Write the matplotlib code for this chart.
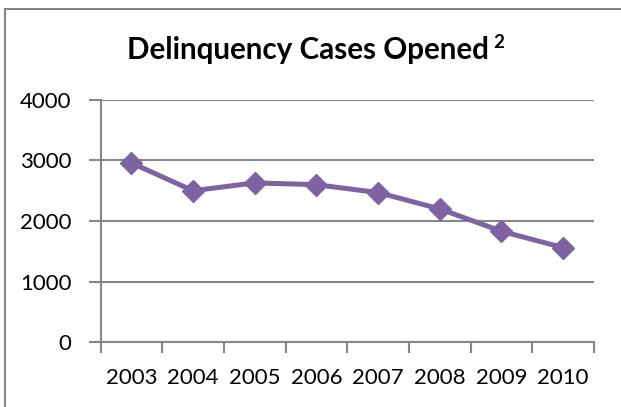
import matplotlib.pyplot as plt
from matplotlib.lines import Line2D

years = ['2003', '2004', '2005', '2006', '2007', '2008', '2009', '2010']
cases = [2960, 2500, 2630, 2600, 2470, 2200, 1830, 1560]
y_ticks = [0, 1000, 2000, 3000, 4000]

purple = '#7F62A1'
grey = '#868686'

plt.rcParams['font.family'] = ['Lato', 'DejaVu Sans']

W, H = 621, 407
fig = plt.figure(figsize=(W / 100, H / 100), dpi=100)

# cadre du graphique : seuls les bords gauche et haut sont visibles
fig.add_artist(Line2D([4.5 / W, 4.5 / W], [0, 1 - 8.5 / H], color=grey, linewidth=1.5))
fig.add_artist(Line2D([4.5 / W, 1], [1 - 8.5 / H, 1 - 8.5 / H], color=grey, linewidth=1.5))

ax = fig.add_axes([100.5 / W, 1 - 342 / H, (594 - 100.5) / W, (342 - 100) / H])

x = list(range(len(years)))
ax.plot(x, cases, color=purple, linewidth=3.6, marker='D', markersize=11,
        markerfacecolor=purple, markeredgecolor=purple, zorder=3)

ax.set_xlim(-0.5, len(years) - 0.5)
ax.set_ylim(0, 4000)
ax.set_yticks(y_ticks)
ax.set_yticklabels([str(v) for v in y_ticks], fontsize=16)
ax.yaxis.grid(True, color=grey, linewidth=1.5)
ax.set_axisbelow(True)

# ticks aux limites des catégories, étiquettes au centre
ax.set_xticks([i - 0.5 for i in range(len(years) + 1)])
ax.set_xticklabels([])
ax.set_xticks(x, minor=True)
ax.set_xticklabels(years, minor=True, fontsize=16)
ax.tick_params(axis='x', which='major', length=8, width=1.5, color=grey, direction='out')
ax.tick_params(axis='x', which='minor', length=0, pad=19)
ax.tick_params(axis='y', length=9, width=1.5, color=grey, pad=12)

for side in ['top', 'right']:
    ax.spines[side].set_visible(False)
for side in ['left', 'bottom']:
    ax.spines[side].set_color(grey)
    ax.spines[side].set_linewidth(1.5)

# titre + exposant
title = fig.text(127 / W, 1 - 59 / H, 'Delinquency Cases Opened', ha='left', va='baseline',
                 fontsize=21.3, fontweight='bold')
fig.canvas.draw()
bb = title.get_window_extent()
fig.text((bb.x1 + 4) / W, 1 - 48 / H, '2', ha='left', va='baseline',
         fontsize=13.5, fontweight='bold')

fig.savefig('out.png', dpi=100)
